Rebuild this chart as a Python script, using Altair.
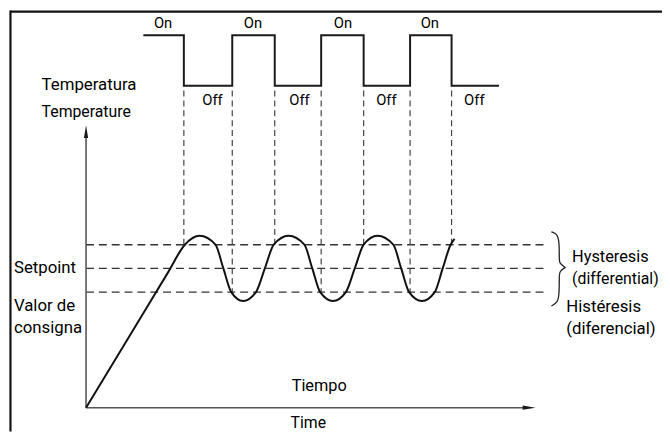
import altair as alt
import pandas as pd

# Schematic drawn in the picture's own coordinate system (x right, y down)
X_DOMAIN = [8, 670]
Y_DOMAIN = [8, 434]

# Relay (heater) output: switching instants and state after each instant
relay_t = [145, 186, 235, 278, 325, 368, 415, 457, 505]
relay_state = ["On", "Off", "On", "Off", "On", "Off", "On", "Off", "Off"]
LEVEL = {"On": 33, "Off": 84}

on_label_t = [165, 256, 347, 435]
off_label_t = [215, 303, 391, 480]

# switching instants projected down to the temperature curve
switch_t = [186, 235, 278, 325, 368, 415, 457]
switch_temp = [245, 293, 245, 293, 245, 293, 245]

# hysteresis band: upper limit, setpoint, lower limit
band_levels = [245, 269, 293]
band_names = ["upper", "setpoint", "lower"]

# temperature response
temp_t = [87, 137, 170, 187, 202, 218, 226, 234, 246, 259, 268, 277, 292, 308,
          316, 324, 337, 350, 359, 368, 382, 398, 406, 414, 427, 440, 448, 456, 460]
temp_v = [410, 327.5, 273, 245, 236, 245, 269, 293, 302, 293, 269, 245, 236, 245,
          269, 293, 302, 293, 269, 245, 236, 245, 269, 293, 302, 293, 269, 245, 239]

# curly brace for the band
brace_x = [558, 564, 566, 566, 566, 572, 572, 572, 566, 566, 566, 564, 558]
brace_y = [232, 234, 242, 258, 264, 268, 268, 268, 272, 278, 296, 304, 307]

xs = alt.Scale(domain=X_DOMAIN, nice=False, zero=False)
ys = alt.Scale(domain=Y_DOMAIN, nice=False, zero=False, reverse=True)


def X(f="x"):
    return alt.X(f"{f}:Q", scale=xs, axis=None)


def Y(f="y"):
    return alt.Y(f"{f}:Q", scale=ys, axis=None)


def X2(f="x2"):
    return alt.X2(f"{f}:Q")


def Y2(f="y2"):
    return alt.Y2(f"{f}:Q")


# frame
frame_df = pd.DataFrame({"x": [10, 10.5], "y": [9, 8], "x2": [670, 10.5], "y2": [9, 434]})
frame = alt.Chart(frame_df).mark_rule(color="#111", strokeWidth=2.2).encode(
    x=X(), y=Y(), x2=X2(), y2=Y2())

# relay square wave
relay_df = pd.DataFrame({"x": relay_t, "y": [LEVEL[s] for s in relay_state]})
relay = alt.Chart(relay_df).mark_line(color="#1a1a1a", strokeWidth=2,
                                      interpolate="step-after").encode(x=X(), y=Y())

# dashed projections
sw_df = pd.DataFrame({"x": switch_t, "y": [89] * len(switch_t), "y2": switch_temp})
switch = alt.Chart(sw_df).mark_rule(color="#444", strokeWidth=1.2,
                                    strokeDash=[6, 4]).encode(x=X(), y=Y(), y2=Y2())

band_df = pd.DataFrame({"y": band_levels, "x": [87] * 3, "x2": [553] * 3, "n": band_names})
band = alt.Chart(band_df).mark_rule(color="#333", strokeWidth=1.4,
                                    strokeDash=[8, 5]).encode(x=X(), x2=X2(), y=Y())

# axes
axes_df = pd.DataFrame({"x": [87, 87], "y": [410, 410], "x2": [87, 532], "y2": [132, 410]})
axes = alt.Chart(axes_df).mark_rule(color="#555", strokeWidth=1.6).encode(
    x=X(), y=Y(), x2=X2(), y2=Y2())

arrow_up = alt.Chart(pd.DataFrame({"x": [87], "y": [130.5]})).mark_point(
    shape="M0,-1L0.33,1L-0.33,1Z", size=169, filled=True, color="#1a1a1a", opacity=1,
    strokeWidth=0).encode(x=X(), y=Y())
arrow_right = alt.Chart(pd.DataFrame({"x": [535.5], "y": [410]})).mark_point(
    shape="M1,0L-1,-0.33L-1,0.33Z", size=169, filled=True, color="#1a1a1a", opacity=1,
    strokeWidth=0).encode(x=X(), y=Y())

# temperature curve
temp_df = pd.DataFrame({"x": temp_t, "y": temp_v, "o": range(len(temp_t))})
temp = alt.Chart(temp_df).mark_line(color="#111", strokeWidth=2,
                                    interpolate="monotone").encode(
    x=X(), y=Y(), order="o:Q")

brace_df = pd.DataFrame({"x": brace_x, "y": brace_y, "o": range(len(brace_x))})
brace = alt.Chart(brace_df).mark_line(color="#222", strokeWidth=1.3,
                                      interpolate="basis").encode(
    x=X(), y=Y(), order="o:Q")

# labels
lab_rows = []
for t in on_label_t:
    lab_rows.append((t, 21, "On", 15, "center"))
for t in off_label_t:
    lab_rows.append((t, 99, "Off", 15, "center"))
lab_rows += [
    (42, 83, "Temperatura", 17, "left"),
    (42, 111, "Temperature", 16, "left"),
    (14, 269, "Setpoint", 17, "left"),
    (14, 307, "Valor de", 17, "left"),
    (14, 329, "consigna", 17, "left"),
    (579, 258, "Hysteresis", 16.5, "left"),
    (579, 280, "(differential)", 16, "left"),
    (573, 308, "Histéresis", 17, "left"),
    (573, 330, "(diferencial)", 17, "left"),
    (323, 388, "Tiempo", 16.5, "center"),
    (312, 426, "Time", 16, "center"),
]
lab_df = pd.DataFrame(lab_rows, columns=["x", "y", "text", "size", "align"])

layers = []
for al in ["left", "center"]:
    d = lab_df[lab_df["align"] == al]
    layers.append(alt.Chart(d).mark_text(font="Roboto", color="#000", align=al,
                                         baseline="middle", clip=True).encode(
        x=X(), y=Y(), text="text:N", size=alt.Size("size:Q", scale=None, legend=None)))

chart = alt.layer(frame, band, switch, axes, arrow_up, arrow_right, relay, temp, brace,
                  *layers).properties(
    width=662, height=426, padding=0, autosize=alt.AutoSizeParams(type="none")
).configure_view(strokeWidth=0)

chart.save("out.html", embed_options={"renderer": "svg", "actions": False})
